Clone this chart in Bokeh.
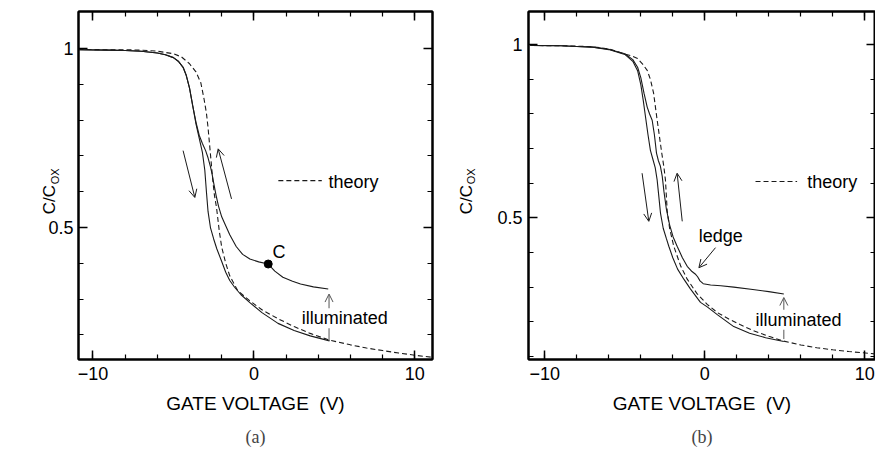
from bokeh.plotting import figure
from bokeh.models import (Range1d, FixedTicker, LinearAxis, Label, Arrow, OpenHead, Title)
from bokeh.layouts import row
from bokeh.embed import file_html
from bokeh.resources import INLINE

# ---------------- data: panel (a) ----------------
a_theory_v = [-10.9, -9, -8, -7, -6, -5, -4.5, -4.0, -3.6, -3.3, -3.1, -2.95, -2.85, -2.75,
              -2.65, -2.55, -2.45, -2.32, -2.15, -2.0, -1.75, -1.5, -1.0, -0.25, 0.5, 1.5,
              2.5, 3.5, 4.7, 6, 7, 8, 9, 10, 11.1]
a_theory_c = [0.998, 0.997, 0.997, 0.996, 0.993, 0.986, 0.977, 0.958, 0.935, 0.905, 0.86,
              0.82, 0.78, 0.73, 0.68, 0.63, 0.59, 0.555, 0.49, 0.445, 0.4, 0.365, 0.323,
              0.295, 0.27, 0.245, 0.223, 0.204, 0.185, 0.172, 0.163, 0.156, 0.149, 0.143, 0.137]

a_down_v = [-10.9, -9, -8, -7, -6, -5.5, -5, -4.7, -4.4, -4.2, -4.0, -3.8, -3.6, -3.4, -3.2,
            -3.05, -2.95, -2.85, -2.7, -2.5, -2.3, -2.0, -1.75, -1.5, -1.2, -0.8, -0.25, 0.5,
            1.5, 2.5, 3.5, 4.7]
a_down_c = [0.997, 0.996, 0.995, 0.993, 0.988, 0.983, 0.975, 0.965, 0.948, 0.925, 0.89, 0.84,
            0.79, 0.75, 0.71, 0.66, 0.6, 0.545, 0.5, 0.468, 0.44, 0.405, 0.375, 0.352, 0.333,
            0.312, 0.29, 0.262, 0.232, 0.212, 0.197, 0.183]

a_up_v = [-10.9, -9, -8, -7, -6, -5.5, -5, -4.7, -4.4, -4.2, -4.0, -3.8, -3.6, -3.4, -3.2,
          -3.0, -2.85, -2.7, -2.6, -2.5, -2.35, -2.2, -2.0, -1.8, -1.5, -1.1, -0.7, -0.25,
          0.3, 0.89, 1.3, 1.8, 2.4, 2.9, 3.7, 4.62]
a_up_c = [0.997, 0.996, 0.995, 0.993, 0.988, 0.983, 0.975, 0.965, 0.948, 0.925, 0.89, 0.84,
          0.795, 0.758, 0.735, 0.715, 0.695, 0.67, 0.65, 0.625, 0.59, 0.56, 0.53, 0.51, 0.48,
          0.447, 0.425, 0.412, 0.404, 0.398, 0.378, 0.361, 0.35, 0.342, 0.334, 0.328]

a_point_v = [0.89]
a_point_c = [0.398]

# ---------------- data: panel (b) ----------------
b_theory_v = [-10.9, -9, -8, -7, -6, -5.2, -4.6, -4.2, -3.9, -3.6, -3.4, -3.2, -3.0, -2.85,
              -2.7, -2.56, -2.46, -2.35, -2.2, -1.94, -1.5, -1.1, -0.5, 0.15, 0.8, 1.5, 2.2,
              3, 4, 4.94, 6, 7, 8, 9, 10.7]
b_theory_c = [0.998, 0.997, 0.996, 0.994, 0.988, 0.976, 0.968, 0.96, 0.945, 0.926, 0.9, 0.86,
              0.79, 0.74, 0.69, 0.648, 0.61, 0.52, 0.47, 0.418, 0.36, 0.323, 0.282, 0.25,
              0.226, 0.208, 0.192, 0.175, 0.158, 0.144, 0.133, 0.125, 0.119, 0.114, 0.107]

b_down_v = [-10.9, -9, -8, -7, -6, -5, -4.5, -4.2, -4.0, -3.85, -3.7, -3.55, -3.4, -3.25,
            -3.1, -2.98, -2.88, -2.77, -2.6, -2.4, -2.25, -2.0, -1.7, -1.31, -0.9, -0.27,
            0.15, 0.8, 1.81, 2.8, 3.8, 4.94]
b_down_c = [0.998, 0.997, 0.995, 0.993, 0.986, 0.972, 0.952, 0.925, 0.885, 0.84, 0.79, 0.74,
            0.695, 0.67, 0.645, 0.61, 0.565, 0.514, 0.47, 0.44, 0.418, 0.385, 0.352, 0.323,
            0.295, 0.256, 0.243, 0.22, 0.186, 0.167, 0.154, 0.143]

b_up_v = [-10.9, -9, -8, -7, -6, -5, -4.5, -4.2, -4.0, -3.8, -3.6, -3.45, -3.29, -3.15,
          -3.02, -2.9, -2.78, -2.66, -2.55, -2.4, -2.2, -1.98, -1.73, -1.4, -1.1, -0.8,
          -0.6, -0.45, -0.3, -0.1, 0.36, 1.0, 1.81, 3.0, 4.0, 4.94]
b_up_c = [0.998, 0.997, 0.995, 0.993, 0.987, 0.974, 0.957, 0.935, 0.905, 0.86, 0.82, 0.8,
          0.782, 0.74, 0.687, 0.665, 0.65, 0.62, 0.575, 0.525, 0.48, 0.445, 0.418, 0.385,
          0.36, 0.345, 0.338, 0.33, 0.318, 0.31, 0.306, 0.304, 0.3, 0.293, 0.287, 0.28]

# ---------------- ticks & texts ----------------
x_major = [-10, 0, 10]
x_major_labels = ["\u221210", "0", "10"]
x_minor = [-10, -8, -6, -4, -2, 0, 2, 4, 6, 8, 10]
y_major = [0.5, 1.0]
y_major_labels = ["0.5", "1"]
y_minor = [0.1, 0.2, 0.3, 0.4, 0.5, 0.6, 0.7, 0.8, 0.9, 1.0]

NB = "\u00a0"
x_title = "GATE VOLTAGE" + NB + NB + "(V)"
y_title_main = "C/C" + NB * 6
y_title_sub = NB * 6 + "OX"
FONT = "Liberation Sans"
INK = "#1a1a1a"


def style_axis(ax, ticks, minor, labels, standoff=5):
    ax.ticker = FixedTicker(ticks=ticks, minor_ticks=minor)
    ax.axis_line_width = 2
    ax.axis_line_color = "black"
    ax.major_tick_in = 9
    ax.major_tick_out = 0
    ax.minor_tick_in = 5
    ax.minor_tick_out = 0
    ax.major_tick_line_width = 1.5
    ax.minor_tick_line_width = 1.2
    ax.major_tick_line_color = "black"
    ax.minor_tick_line_color = "black"
    if labels is None:
        ax.major_label_overrides = {t: "" for t in ticks}
        ax.major_label_text_font_size = "0px"
        ax.major_label_standoff = 0
    else:
        ax.major_label_overrides = {t: l for t, l in zip(ticks, labels)}
        ax.major_label_text_font = FONT
        ax.major_label_text_font_size = "18px"
        ax.major_label_text_color = "black"
        ax.major_label_standoff = standoff


def panel(xr, yr, width, mbl, mbr, caption, cap_offset, ystandoff, s_sub, s_main):
    p = figure(width=width, height=456, x_range=Range1d(*xr), y_range=Range1d(*yr),
               output_backend="svg", toolbar_location=None,
               min_border_left=mbl, min_border_right=mbr, min_border_top=11,
               min_border_bottom=97, background_fill_color="white",
               border_fill_color="white")
    p.grid.visible = False
    p.outline_line_color = "black"
    p.outline_line_width = 2
    xa = p.xaxis[0]
    style_axis(xa, x_major, x_minor, x_major_labels, 7)
    xa.axis_label = x_title
    xa.axis_label_text_font = FONT
    xa.axis_label_text_font_size = "19px"
    xa.axis_label_text_font_style = "normal"
    xa.axis_label_text_color = "black"
    xa.axis_label_standoff = 10
    ya = p.yaxis[0]
    style_axis(ya, y_major, y_minor, y_major_labels, ystandoff)
    ya.axis_label = y_title_sub
    ya.axis_label_text_font = FONT
    ya.axis_label_text_font_size = "11px"
    ya.axis_label_text_font_style = "normal"
    ya.axis_label_text_color = "black"
    ya.axis_label_standoff = s_sub
    ya2 = LinearAxis(ticker=FixedTicker(ticks=[]), axis_line_color=None,
                     major_tick_line_color=None, minor_tick_line_color=None,
                     major_label_text_font_size="0px", major_label_standoff=0,
                     axis_label=y_title_main, axis_label_text_font=FONT,
                     axis_label_text_font_size="17px", axis_label_text_font_style="normal",
                     axis_label_text_color="black", axis_label_standoff=s_main)
    p.add_layout(ya2, "left")
    top = LinearAxis()
    style_axis(top, x_major, x_minor, None)
    p.add_layout(top, "above")
    right = LinearAxis()
    style_axis(right, y_major, y_minor, None)
    p.add_layout(right, "right")
    p.add_layout(Title(text=caption, align="center", text_font="Liberation Serif",
                       text_font_size="18px", text_font_style="normal",
                       offset=cap_offset, standoff=16), "below")
    return p


def txt(p, x, y, s, align="left", size="18px", bg=None):
    p.add_layout(Label(x=x, y=y, text=s, text_font=FONT, text_font_size=size,
                       text_align=align, text_baseline="middle", text_color="black",
                       background_fill_color=bg))


def arrow(p, x0, y0, x1, y1, color=INK):
    p.add_layout(Arrow(x_start=x0, y_start=y0, x_end=x1, y_end=y1, line_color=color,
                       line_width=1,
                       end=OpenHead(size=8, line_color=color, line_width=1)))


# ---------------- panel (a) ----------------
pa = panel((-10.9, 11.1), (0.131, 1.104), 440, 78, 8, "(a)", -4, 5, -16, -12)
pa.line(a_theory_v, a_theory_c, line_color=INK, line_width=1.1, line_dash="5 3")
pa.line(a_down_v, a_down_c, line_color=INK, line_width=1.1)
pa.line(a_up_v, a_up_c, line_color=INK, line_width=1.1)
pa.scatter(a_point_v, a_point_c, size=8, color="black")
txt(pa, 1.15, 0.432, "C")
arrow(pa, -4.4, 0.715, -3.67, 0.584)
arrow(pa, -1.39, 0.58, -2.22, 0.72)
arrow(pa, 4.67, 0.183, 4.67, 0.314, "#555555")
txt(pa, 2.97, 0.2465, "illuminated", bg="white")
pa.line([1.52, 4.22], [0.631, 0.631], line_color=INK, line_width=1.1, line_dash="5 3")
txt(pa, 4.63, 0.628, "theory")

# ---------------- panel (b) ----------------
pb = panel((-11.02, 10.67), (0.091, 1.096), 435, 88, 0, "(b)", 4, 6, 17, -13)
pb.line(b_theory_v, b_theory_c, line_color=INK, line_width=1.1, line_dash="5 3")
pb.line(b_down_v, b_down_c, line_color=INK, line_width=1.1)
pb.line(b_up_v, b_up_c, line_color=INK, line_width=1.1)
arrow(pb, -3.92, 0.629, -3.5, 0.49)
arrow(pb, -1.41, 0.49, -1.73, 0.629)
txt(pb, -0.38, 0.447, "ledge")
arrow(pb, 0.67, 0.414, -0.37, 0.356)
arrow(pb, 4.94, 0.15, 4.94, 0.27, "#555555")
txt(pb, 3.17, 0.206, "illuminated", bg="white")
pb.line([3.17, 5.77], [0.605, 0.605], line_color=INK, line_width=1.1, line_dash="5 3")
txt(pb, 6.4, 0.604, "theory")

layout = row(pa, pb)
open("out.html", "w").write(file_html(layout, INLINE))
